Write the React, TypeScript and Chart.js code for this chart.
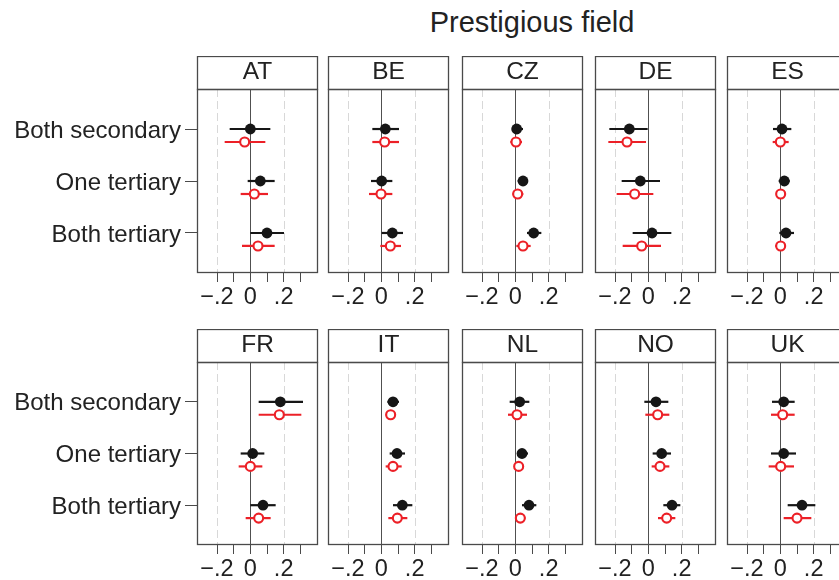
import React, { useEffect, useRef, useState } from 'react';
import { Chart, registerables } from 'chart.js';
Chart.register(...registerables);

// ---------- data ----------
const countries = ['AT', 'BE', 'CZ', 'DE', 'ES', 'FR', 'IT', 'NL', 'NO', 'UK'];
const categories = ['Both secondary', 'One tertiary', 'Both tertiary'];
const xTickValues = [-0.2, -0.1, 0, 0.1, 0.2, 0.3];
const xTickLabels = ['\u2212.2', '', '0', '', '.2', ''];

// black (filled) estimates and 95% CIs, per country, per category
const blackEst = [
  [0.0, 0.06, 0.10], [0.024, 0.002, 0.066], [0.008, 0.046, 0.11], [-0.114, -0.048, 0.022], [0.01, 0.024, 0.034],
  [0.18, 0.014, 0.076], [0.07, 0.094, 0.126], [0.026, 0.04, 0.082], [0.046, 0.08, 0.142], [0.02, 0.02, 0.13],
];
const blackLo = [
  [-0.124, -0.016, 0.0], [-0.054, -0.062, 0.002], [-0.02, 0.014, 0.07], [-0.234, -0.16, -0.094], [-0.044, -0.01, -0.006],
  [0.05, -0.058, 0.0], [0.036, 0.05, 0.07], [-0.034, 0.01, 0.04], [-0.024, 0.026, 0.09], [-0.05, -0.056, 0.044],
];
const blackHi = [
  [0.12, 0.146, 0.202], [0.106, 0.066, 0.13], [0.046, 0.076, 0.156], [-0.004, 0.07, 0.138], [0.066, 0.056, 0.082],
  [0.316, 0.084, 0.152], [0.106, 0.142, 0.186], [0.084, 0.076, 0.126], [0.12, 0.136, 0.192], [0.086, 0.094, 0.21],
];
// red (hollow) estimates and 95% CIs
const redEst = [
  [-0.034, 0.024, 0.046], [0.02, -0.002, 0.054], [0.004, 0.014, 0.046], [-0.128, -0.082, -0.04], [0.0, 0.002, 0.002],
  [0.174, 0.0, 0.05], [0.056, 0.07, 0.096], [0.01, 0.02, 0.03], [0.056, 0.07, 0.11], [0.014, 0.002, 0.1],
];
const redLo = [
  [-0.154, -0.058, -0.05], [-0.054, -0.074, -0.006], [-0.03, -0.016, 0.006], [-0.24, -0.19, -0.154], [-0.046, -0.026, -0.03],
  [0.05, -0.07, -0.028], [0.026, 0.026, 0.042], [-0.044, -0.004, 0.0], [-0.018, 0.02, 0.058], [-0.056, -0.07, 0.02],
];
const redHi = [
  [0.09, 0.106, 0.146], [0.106, 0.066, 0.118], [0.04, 0.048, 0.092], [-0.014, 0.03, 0.076], [0.05, 0.03, 0.03],
  [0.306, 0.072, 0.122], [0.086, 0.122, 0.156], [0.07, 0.046, 0.06], [0.126, 0.126, 0.162], [0.086, 0.082, 0.186],
];

// ---------- layout / style ----------
const FONT = '"Liberation Sans", Arial, Helvetica, sans-serif';
const BLACK = '#161616';
const RED = '#ec2027';
const TEXT = '#222222';
const LINE = '#4a4a4a';
const panelLefts = [197, 328, 462, 595, 727];
const rowTops = [56, 329];
const plotHeights = [184, 183];
const PANEL_W = 121;
const HEADER_H = 33;
const XAXIS_H = 40;
const SIDE = 12;
const RED_OFFSET = 0.25;

function makeDecor(label: string) {
  return {
    id: 'panelDecor',
    beforeDatasetsDraw(chart: any) {
      const { ctx, chartArea: a, scales } = chart;
      const x = scales.x;
      ctx.save();
      ctx.lineWidth = 1;
      [-0.2, 0.2].forEach((v) => {
        const px = Math.round(x.getPixelForValue(v)) + 0.5;
        ctx.strokeStyle = '#d8d8d8';
        ctx.setLineDash([8, 4]);
        ctx.beginPath();
        ctx.moveTo(px, a.top);
        ctx.lineTo(px, a.bottom);
        ctx.stroke();
      });
      const z = Math.round(x.getPixelForValue(0)) + 0.5;
      ctx.setLineDash([]);
      ctx.strokeStyle = '#505050';
      ctx.beginPath();
      ctx.moveTo(z, a.top);
      ctx.lineTo(z, a.bottom);
      ctx.stroke();
      ctx.restore();
    },
    afterDraw(chart: any) {
      const { ctx, chartArea: a } = chart;
      const l = Math.round(a.left) + 0.5;
      const r = Math.round(a.right) - 0.5;
      const t = Math.round(a.top) + 0.5;
      const b = Math.round(a.bottom) - 0.5;
      const ht = t - HEADER_H;
      ctx.save();
      ctx.fillStyle = '#ffffff';
      ctx.fillRect(l, ht, r - l, HEADER_H);
      ctx.strokeStyle = LINE;
      ctx.lineWidth = 1.3;
      ctx.strokeRect(l, ht, r - l, HEADER_H);
      ctx.strokeRect(l, t, r - l, b - t);
      ctx.fillStyle = TEXT;
      ctx.font = `24.5px ${FONT}`;
      ctx.textAlign = 'center';
      ctx.textBaseline = 'alphabetic';
      ctx.fillText(label, (l + r) / 2, ht + 22.5);
      ctx.restore();
    },
  };
}

function Panel({ ci, onError }: { ci: number; onError: (s: string) => void }) {
  const ref = useRef<HTMLCanvasElement | null>(null);
  const row = Math.floor(ci / 5);
  const col = ci % 5;
  const first = col === 0;
  const padL = first ? panelLefts[0] : SIDE;
  const canvasLeft = panelLefts[col] - padL;
  const w = padL + PANEL_W + SIDE;
  const plotH = plotHeights[row];
  const h = HEADER_H + plotH + XAXIS_H;

  useEffect(() => {
    if (!ref.current) return;
    let chart: any = null;
    try {
      const datasets: any[] = [];
      for (let i = 0; i < categories.length; i++) {
        datasets.push({
          data: [{ x: blackLo[ci][i], y: i + 1 }, { x: blackHi[ci][i], y: i + 1 }],
          showLine: true, borderColor: BLACK, borderWidth: 2.2, pointRadius: 0, order: 2,
        });
        datasets.push({
          data: [{ x: redLo[ci][i], y: i + 1 + RED_OFFSET }, { x: redHi[ci][i], y: i + 1 + RED_OFFSET }],
          showLine: true, borderColor: RED, borderWidth: 2.2, pointRadius: 0, order: 2,
        });
      }
      datasets.push({
        data: blackEst[ci].map((v, i) => ({ x: v, y: i + 1 })),
        pointRadius: 5.4, pointBackgroundColor: BLACK, pointBorderColor: BLACK, pointBorderWidth: 0, order: 0,
      });
      datasets.push({
        data: redEst[ci].map((v, i) => ({ x: v, y: i + 1 + RED_OFFSET })),
        pointRadius: 4.5, pointBackgroundColor: '#ffffff', pointBorderColor: RED, pointBorderWidth: 2.1, order: 0,
      });

      chart = new Chart(ref.current, {
        type: 'scatter',
        data: { datasets },
        options: {
          animation: false,
          responsive: false,
          events: [],
          layout: { padding: { top: HEADER_H, left: 0, right: SIDE, bottom: 0 } },
          plugins: { legend: { display: false }, tooltip: { enabled: false }, title: { display: false } },
          scales: {
            x: {
              type: 'linear',
              min: -0.32,
              max: 0.406,
              afterBuildTicks: (s: any) => { s.ticks = xTickValues.map((v) => ({ value: v })); },
              afterFit: (s: any) => { s.height = XAXIS_H; },
              ticks: {
                autoSkip: false, maxRotation: 0, minRotation: 0, padding: 1, color: TEXT,
                font: { family: FONT, size: 23.5 },
                callback: (v: any) => {
                  const k = xTickValues.findIndex((t) => Math.abs(t - Number(v)) < 1e-9);
                  return k >= 0 ? xTickLabels[k] : '';
                },
              },
              grid: { drawOnChartArea: false, drawTicks: true, tickLength: 9, color: LINE, lineWidth: 1 },
              border: { display: false },
            },
            y: {
              type: 'linear',
              display: true,
              reverse: true,
              min: 0.23,
              max: 3.77,
              afterBuildTicks: (s: any) => { s.ticks = categories.map((_, i) => ({ value: i + 1 })); },
              afterFit: (s: any) => { s.width = padL; },
              ticks: {
                display: first,
                autoSkip: false, padding: 4, color: TEXT, labelOffset: 2,
                font: { family: FONT, size: 24 },
                callback: (v: any) => categories[Math.round(Number(v)) - 1] ?? '',
              },
              grid: {
                display: first, drawOnChartArea: false, drawTicks: true, tickLength: 12, color: LINE, lineWidth: 1,
              },
              border: { display: false },
            },
          },
        },
        plugins: [makeDecor(countries[ci])],
      } as any);
    } catch (e: any) {
      onError(countries[ci] + ': ' + String(e && e.stack ? e.stack : e));
    }
    return () => { if (chart) chart.destroy(); };
  }, [ci]);

  return (
    <canvas
      ref={ref}
      width={w}
      height={h}
      style={{ position: 'absolute', left: canvasLeft, top: rowTops[row], width: w, height: h }}
    />
  );
}

export default function App() {
  const [err, setErr] = useState<string>('');
  return (
    <div style={{ position: 'fixed', left: 0, top: 0, width: 839, height: 580, overflow: 'hidden', background: '#ffffff' }}>
      <div
        style={{
          position: 'absolute', left: 332, top: 8, width: 400, textAlign: 'center',
          fontFamily: FONT, fontSize: 29, lineHeight: '29px', color: TEXT,
        }}
      >
        Prestigious field
      </div>
      {countries.map((_, ci) => (
        <Panel key={ci} ci={ci} onError={(s) => setErr((p) => p + '\n' + s)} />
      ))}
      {err ? (
        <pre style={{ position: 'absolute', left: 340, top: 60, fontSize: 10, color: 'blue', whiteSpace: 'pre-wrap', width: 490 }}>{err}</pre>
      ) : null}
    </div>
  );
}
